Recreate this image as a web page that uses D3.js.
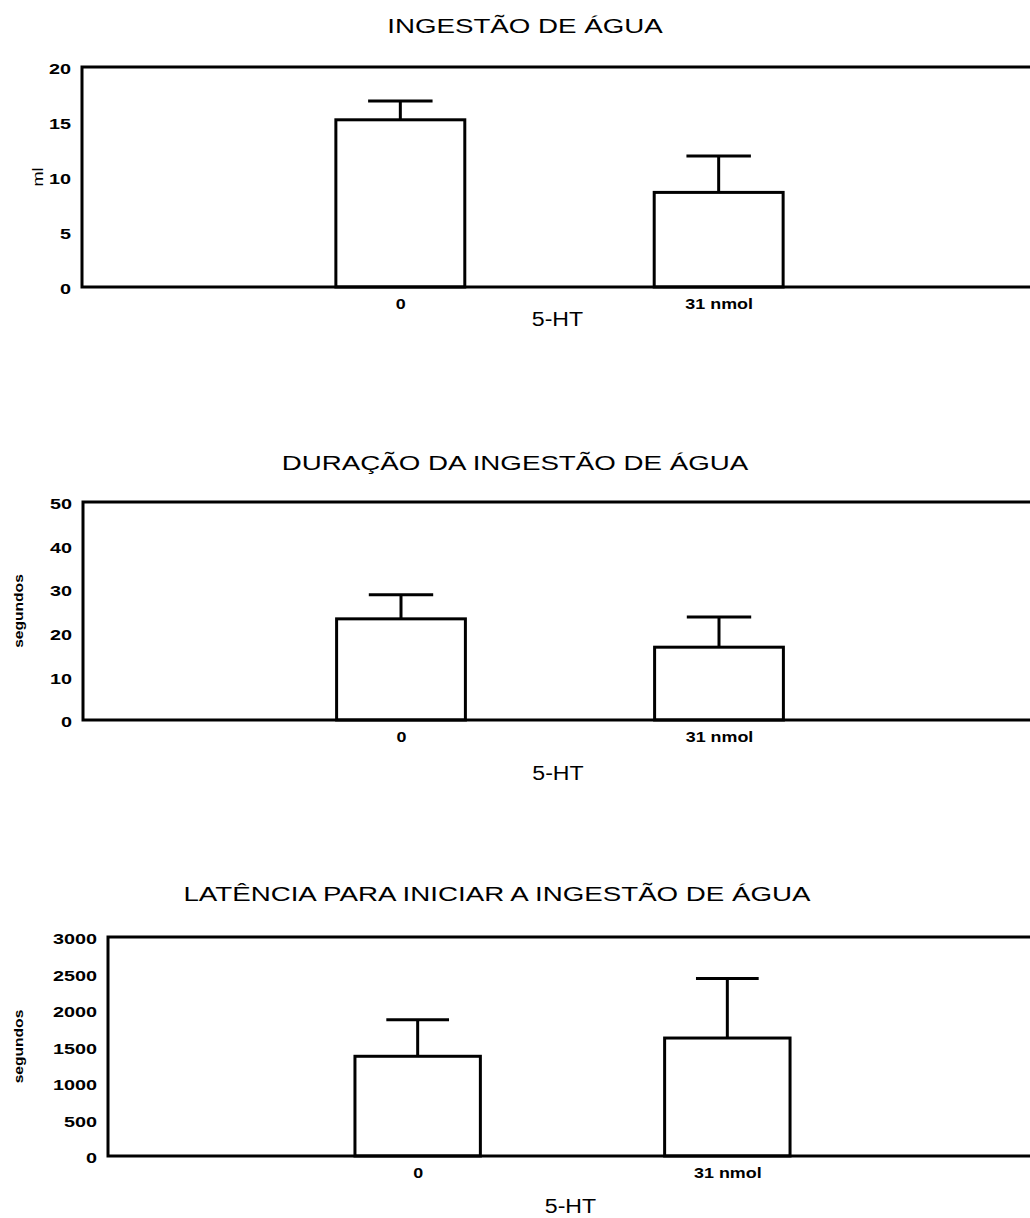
<!DOCTYPE html>
<html>
<head>
<meta charset="utf-8">
<script src="https://cdn.jsdelivr.net/npm/d3@7"></script>
<style>
  body { margin: 0; background: #fff; }
  text { font-family: "Liberation Sans", Arial, sans-serif; fill: #000; }
</style>
</head>
<body>
<script>
// data
var groups = ["0", "31 nmol"];

var waterMl = [15.2, 8.6];
var waterMlErr = [1.7, 3.3];
var waterTicks = [0, 5, 10, 15, 20];

var durationSec = [23.2, 16.7];
var durationErr = [5.5, 6.9];
var durationTicks = [0, 10, 20, 30, 40, 50];

var latencySec = [1366, 1616];
var latencyErr = [502, 814];
var latencyTicks = [0, 500, 1000, 1500, 2000, 2500, 3000];

var titles = [
  "INGESTÃO DE ÁGUA",
  "DURAÇÃO DA INGESTÃO DE ÁGUA",
  "LATÊNCIA PARA INICIAR A INGESTÃO DE ÁGUA"
];
var yLabels = ["ml", "segundos", "segundos"];
var xLabel = "5-HT";

// layout for each panel
var panels = [
  {values: waterMl, err: waterMlErr, ticks: waterTicks, max: 20,
   left: 82, top: 67, bottom: 287, titleX: 525, titleY: 33,
   xLabDy: 39, yLabX: 43, yLabBold: false, yLabSize: 14},
  {values: durationSec, err: durationErr, ticks: durationTicks, max: 50,
   left: 83, top: 502, bottom: 720, titleX: 515, titleY: 470,
   xLabDy: 60, yLabX: 23, yLabBold: true, yLabSize: 12},
  {values: latencySec, err: latencyErr, ticks: latencyTicks, max: 3000,
   left: 108, top: 937, bottom: 1156, titleX: 497, titleY: 901,
   xLabDy: 57, yLabX: 23, yLabBold: true, yLabSize: 12}
];

var width = 1030, height = 1218, plotRight = 1037;
var SX = 1.32; // lettering in the scan is wide

// widen text horizontally while keeping its anchor point
var stretch = function(sel, sx) {
  sel.each(function() {
    var t = d3.select(this);
    var x0 = +t.attr("x") || 0;
    var tr = t.attr("transform") || "";
    t.attr("x", x0 / sx)
     .attr("transform", tr + " scale(" + sx + ",1)");
  });
};

var svg = d3.select("body")
  .append("svg")
    .attr("width", width)
    .attr("height", height);

panels.forEach(function(p, k) {
  var g = svg.append("g");

  var x = d3.scaleLinear()
    .domain([0, groups.length + 1])
    .range([p.left, plotRight]);

  var y = d3.scaleLinear()
    .domain([0, p.max])
    .range([p.bottom, p.top]);

  var step = x(1) - x(0);
  var barW = step * 0.405;
  var capW = barW / 2;

  // title
  g.append("text")
    .attr("x", p.titleX)
    .attr("y", p.titleY)
    .attr("text-anchor", "middle")
    .style("font-size", "21px")
    .text(titles[k])
    .call(stretch, SX);

  // bars
  g.selectAll(".bar")
    .data(p.values)
    .enter()
    .append("rect")
      .attr("x", function(d, i) { return x(i + 1) - barW / 2; })
      .attr("y", function(d) { return y(d); })
      .attr("width", barW)
      .attr("height", function(d) { return y(0) - y(d); })
      .style("fill", "#fff")
      .style("stroke", "#000")
      .style("stroke-width", 3);

  // error bars (upper only)
  g.selectAll(".errv")
    .data(p.values)
    .enter()
    .append("line")
      .attr("x1", function(d, i) { return x(i + 1); })
      .attr("x2", function(d, i) { return x(i + 1); })
      .attr("y1", function(d) { return y(d); })
      .attr("y2", function(d, i) { return y(d + p.err[i]); })
      .style("stroke", "#000")
      .style("stroke-width", 3);

  g.selectAll(".errc")
    .data(p.values)
    .enter()
    .append("line")
      .attr("x1", function(d, i) { return x(i + 1) - capW / 2; })
      .attr("x2", function(d, i) { return x(i + 1) + capW / 2; })
      .attr("y1", function(d, i) { return y(d + p.err[i]); })
      .attr("y2", function(d, i) { return y(d + p.err[i]); })
      .style("stroke", "#000")
      .style("stroke-width", 3);

  // frame: top, left, bottom (right side runs off the page)
  g.append("path")
    .attr("d", "M" + plotRight + "," + y(p.max) + "H" + p.left +
               "V" + y(0) + "H" + plotRight)
    .style("fill", "none")
    .style("stroke", "#000")
    .style("stroke-width", 3);

  // y axis
  var yAxis = g.append("g")
    .attr("transform", "translate(" + p.left + ",0)")
    .call(d3.axisLeft(y).tickValues(p.ticks).tickFormat(d3.format("d"))
      .tickSize(0).tickPadding(11));
  yAxis.select(".domain").remove();
  yAxis.selectAll("text")
    .attr("dy", "0.45em")
    .style("font-family", "Liberation Sans, Arial, sans-serif")
    .style("font-size", "15px")
    .style("font-weight", "bold")
    .call(stretch, SX);

  // x axis
  var xAxis = g.append("g")
    .attr("transform", "translate(0," + y(0) + ")")
    .call(d3.axisBottom(x)
      .tickValues(d3.range(1, groups.length + 1))
      .tickFormat(function(i) { return groups[i - 1]; })
      .tickSize(0)
      .tickPadding(12));
  xAxis.select(".domain").remove();
  xAxis.selectAll("text")
    .style("font-family", "Liberation Sans, Arial, sans-serif")
    .style("font-size", "14px")
    .style("font-weight", "bold")
    .call(stretch, 1.28);

  // x label
  g.append("text")
    .attr("x", (p.left + plotRight) / 2 - 2)
    .attr("y", y(0) + p.xLabDy)
    .attr("text-anchor", "middle")
    .style("font-size", "21px")
    .text(xLabel)
    .call(stretch, 1.1);

  // y label
  g.append("text")
    .attr("transform", "translate(" + p.yLabX + "," + (p.top + p.bottom) / 2 + ") rotate(-90)")
    .attr("text-anchor", "middle")
    .style("font-size", p.yLabSize + "px")
    .style("font-weight", p.yLabBold ? "bold" : "normal")
    .text(yLabels[k])
    .call(stretch, 1.3);
});
</script>
</body>
</html>
